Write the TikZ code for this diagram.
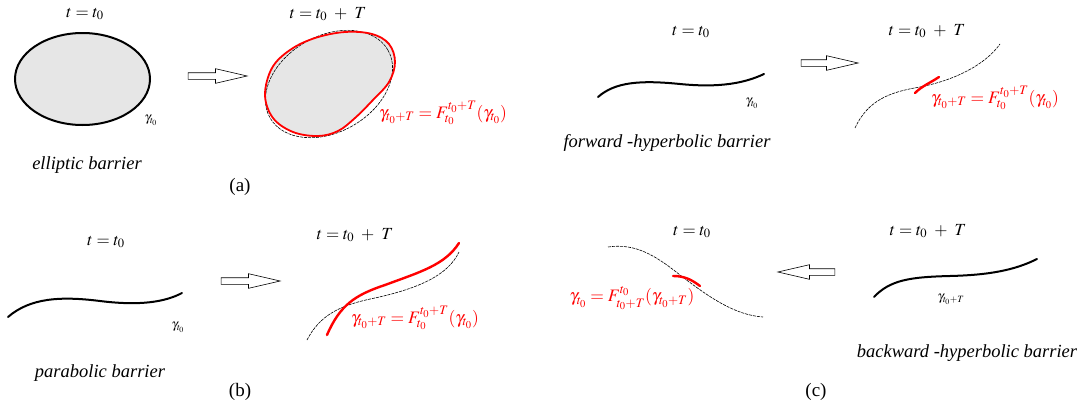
\documentclass[tikz,border=0pt]{standalone}
\usepackage{mathptmx}
\usepackage[no-math]{fontspec}
\setmainfont{Liberation Serif}
\usetikzlibrary{shapes.arrows}
\definecolor{blobgray}{HTML}{E6E6E6}
\tikzset{
  lbl/.style={font=\fontsize{17}{19}\selectfont, inner sep=0pt},
  paren/.style={font=\fontsize{19}{21}\selectfont, inner sep=0pt},
  captxt/.style={font=\fontsize{18.5}{21}\selectfont\itshape, inner sep=0pt},
  gam/.style={font=\fontsize{13}{15}\selectfont, inner sep=0pt},
  redlbl/.style={font=\fontsize{17.5}{20}\selectfont, text=red, inner sep=0pt},
  barrier/.style={line width=2pt, line cap=round},
  redbar/.style={red, line width=2.4pt, line cap=round},
  thin dash/.style={line width=0.6pt, dash pattern=on 3pt off 1pt},
  hollow/.style={single arrow, draw, fill=white, line width=0.6pt, inner sep=3pt,
    minimum width=14pt, single arrow head extend=4pt, single arrow tip angle=26,
    anchor=center}
}
\newcommand{\tT}{$t=t_0\mskip5mu+\mskip5mu T$}
\begin{document}
\begin{tikzpicture}[x=1pt,y=-1pt]
\useasboundingbox (0,0) rectangle (1085,407);
% ---------- (a) ----------
\node[lbl] (ta1) at (85,14) {$t=t_0$};
\draw[barrier, fill=blobgray] (82.5,79) ellipse [x radius=67.5, y radius=46];
\node[gam] (ga1) at (151,120) {$\gamma_{t_0}$};
\node[captxt] (ca) at (87,165) {elliptic barrier};
\node[paren] (la) at (240,187) {(a)};
\node[hollow, minimum height=59pt] (ara) at (210.5,76) {};
\node[lbl] (ta2) at (328,14) {\tT};
\fill[blobgray] plot[smooth cycle, tension=0.6] coordinates {(265,95) (272,68) (290,50) (315,38) (345,32) (372,34) (389,44) (395,62) (389,82) (372,101) (355,118) (338,131) (318,136) (293,132) (273,118)};
\draw[thin dash, rotate around={30:(329,84)}] (329,84) ellipse [x radius=68, y radius=48];
\draw[red, line width=1.8pt] plot[smooth cycle, tension=0.6] coordinates {(265,95) (272,68) (290,50) (315,38) (345,32) (372,34) (389,44) (395,62) (389,82) (372,101) (355,118) (338,131) (318,136) (293,132) (273,118)};
\node[redlbl] (ra) at (443,113) {$\gamma_{t_0+T}=F_{t_0}^{t_0+T}(\gamma_{t_0})$};
% ---------- (b) ----------
\node[lbl] (tb1) at (106,242) {$t=t_0$};
\draw[barrier] (8,317) .. controls (30,298) and (60,296) .. (100,301) .. controls (140,306) and (165,302) .. (182,293);
\node[gam] (gb1) at (178,327) {$\gamma_{t_0}$};
\node[captxt] (cb) at (100,373) {parabolic barrier};
\node[paren] (lb) at (240,392) {(b)};
\node[hollow, minimum height=59pt] (arb) at (243.5,281) {};
\node[lbl] (tb2) at (355,235) {\tT};
\draw[thin dash] (307,340) .. controls (320,315) and (340,305) .. (375,298) .. controls (420,288) and (448,275) .. (459,252);
\draw[redbar] (327,335) .. controls (340,305) and (355,295) .. (385,285) .. controls (420,272) and (445,265) .. (459,243);
\node[redlbl] (rb) at (415,318) {$\gamma_{t_0+T}=F_{t_0}^{t_0+T}(\gamma_{t_0})$};
% ---------- (c) top ----------
\node[lbl] (tc1) at (691,32) {$t=t_0$};
\draw[barrier] (598,97) .. controls (615,82) and (640,80) .. (680,84) .. controls (720,88) and (745,83) .. (764,74);
\node[gam] (gc1) at (752,103) {$\gamma_{t_0}$};
\node[captxt] (cf) at (667,143) {forward -hyperbolic barrier};
\node[hollow, minimum height=57pt] (arc1) at (822.5,63) {};
\node[lbl] (tc2) at (927,31) {\tT};
\draw[thin dash] (855,128) .. controls (868,100) and (890,92) .. (920,87) .. controls (955,80) and (985,65) .. (1000,44);
\draw[redbar] (915,93) .. controls (922,86) and (930,83) .. (939,77);
\node[redlbl] (rc1) at (995,98) {$\gamma_{t_0+T}=F_{t_0}^{t_0+T}(\gamma_{t_0})$};
% ---------- (c) bottom ----------
\node[lbl] (tc3) at (692,232) {$t=t_0$};
\draw[thin dash] (608,247) .. controls (635,243) and (655,255) .. (680,275) .. controls (710,298) and (735,315) .. (763,317);
\draw[redbar] (673,276) .. controls (685,276) and (692,280) .. (700,286);
\node[redlbl] (rc2) at (632,298) {$\gamma_{t_0}=F_{t_0+T}^{t_0}(\gamma_{t_0+T})$};
\node[paren] (lc) at (816,392) {(c)};
\node[hollow, minimum height=57pt, shape border rotate=180] (arc2) at (813.5,272) {};
\node[lbl] (tc4) at (928,231) {\tT};
\draw[barrier] (874,297) .. controls (890,280) and (910,277) .. (950,276) .. controls (990,275) and (1015,270) .. (1037,259);
\node[gam] (gc2) at (951,299) {$\gamma_{t_0+T}$};
\node[captxt] (cw) at (967,353) {backward -hyperbolic barrier};
\end{tikzpicture}
\end{document}
